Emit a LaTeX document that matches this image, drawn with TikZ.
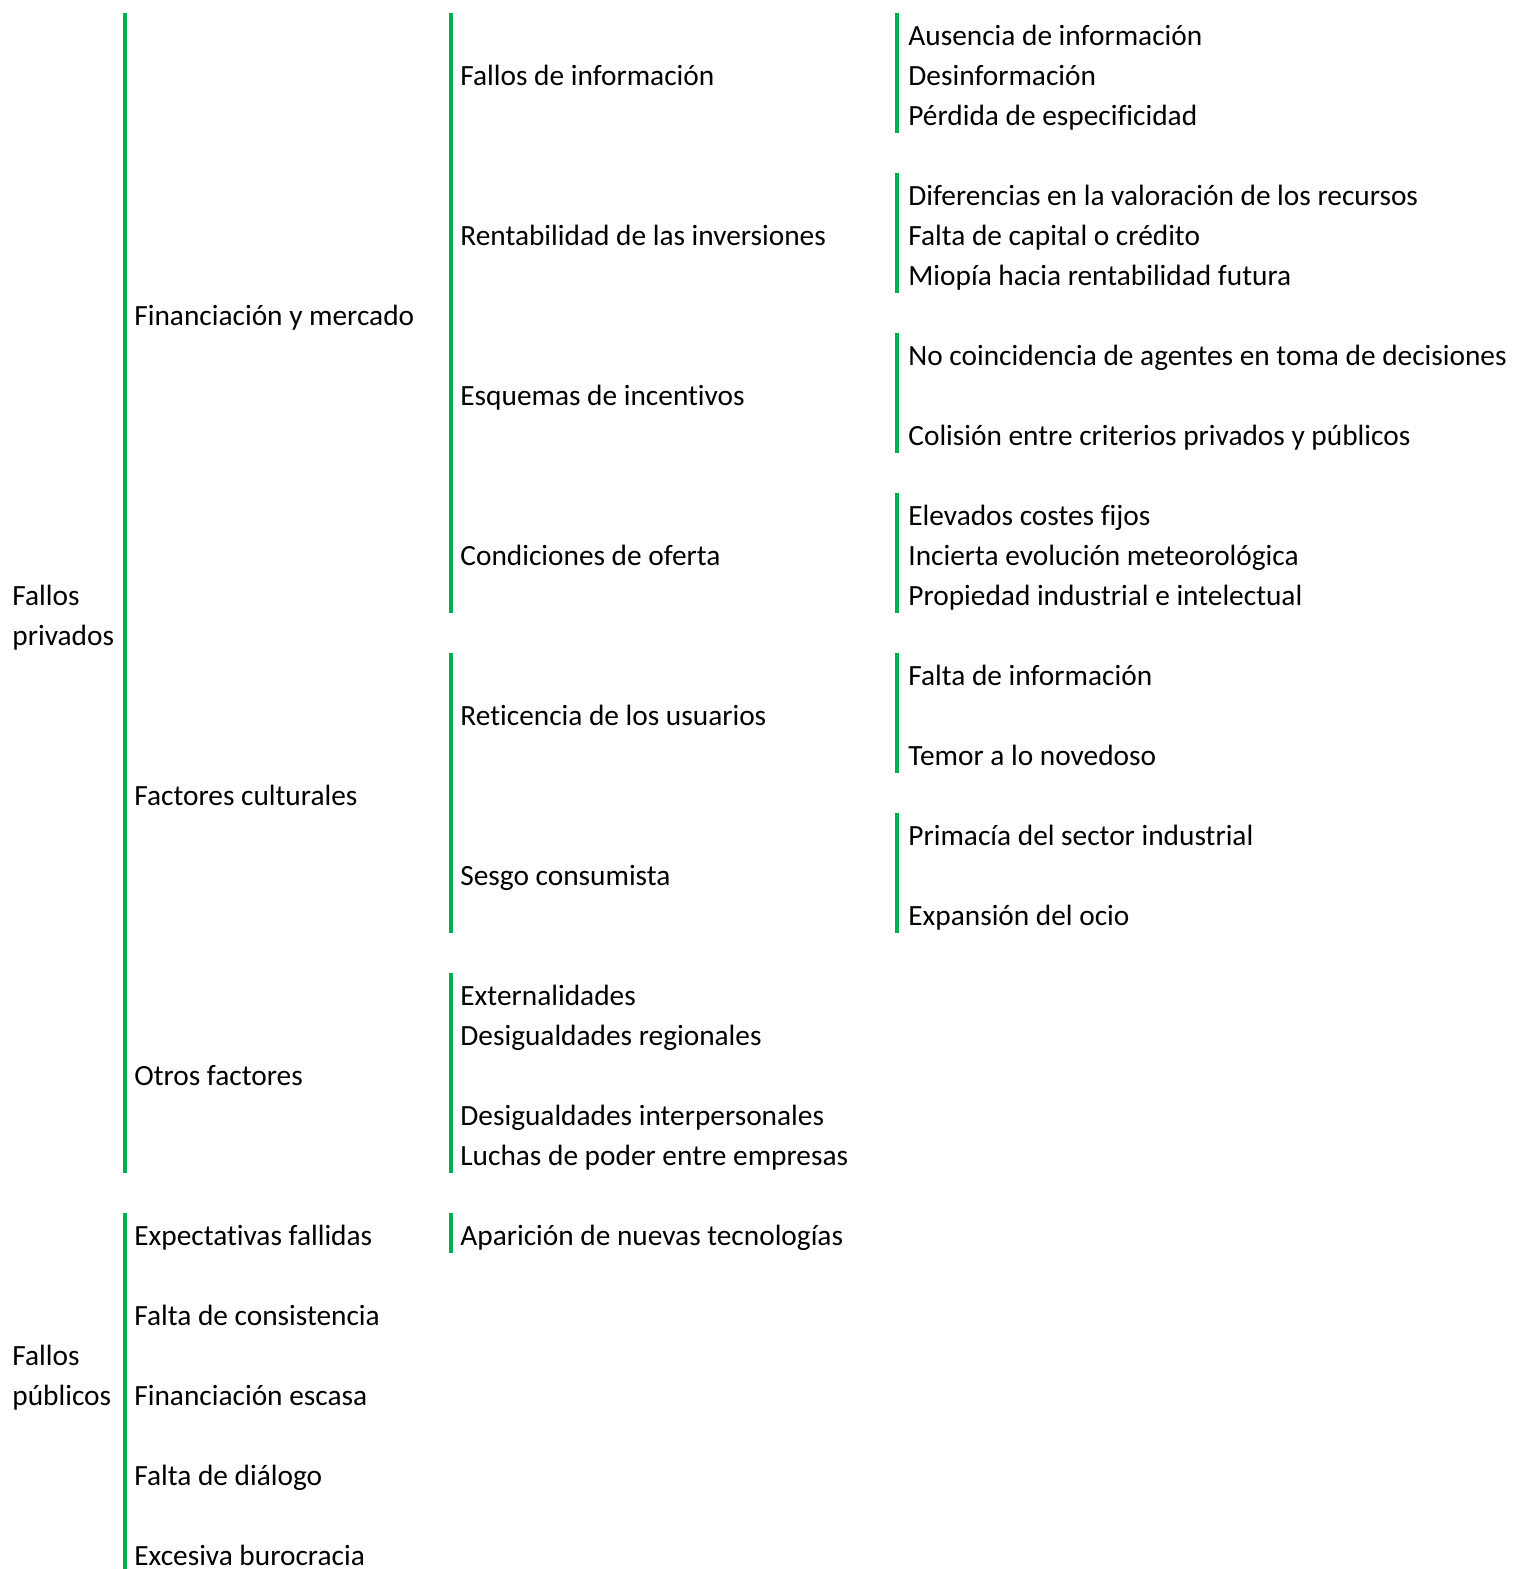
\documentclass[tikz,border=0pt]{standalone}
\usepackage{fontspec}
\setmainfont[Ligatures=NoCommon]{Carlito}
\definecolor{barg}{HTML}{00B050}
\newcommand\itm[4]{\node[lbl] (#1) at (#2,{45+40*#3}) {#4};}
\newcommand\brr[3]{\draw[bar] (#1,{13+40*#2}) -- (#1,{13+40*(#3+1)});}
\begin{document}
\begin{tikzpicture}[x=0.5pt,y=-0.5pt,
  lbl/.style={anchor=base west,inner sep=0pt,font=\fontsize{14.67pt}{18pt}\selectfont},
  bar/.style={draw=barg,line width=2pt}]
\useasboundingbox (0,0) rectangle (1513,1569);
\clip (0,0) rectangle (1513,1569);
% bars column 1
\brr{125}{0}{28}
\draw[bar] (125,1213) -- (125,1600);
% bars column 2
\brr{451}{0}{14}
\brr{451}{16}{22}
\brr{451}{24}{28}
\brr{451}{30}{30}
% bars column 3
\brr{897}{0}{2}
\brr{897}{4}{6}
\brr{897}{8}{10}
\brr{897}{12}{14}
\brr{897}{16}{18}
\brr{897}{20}{22}
% column 0
\itm{fp1}{12}{14}{Fallos}
\itm{fp2}{12}{15}{privados}
\itm{fq1}{12}{33}{Fallos}
\itm{fq2}{12}{34}{públicos}
% column 1
\itm{fin}{134}{7}{Financiación y mercado}
\itm{fac}{134}{19}{Factores culturales}
\itm{otr}{134}{26}{Otros factores}
\itm{exp}{134}{30}{Expectativas fallidas}
\itm{fco}{134}{32}{Falta de consistencia}
\itm{fes}{134}{34}{Financiación escasa}
\itm{fdi}{134}{36}{Falta de diálogo}
\itm{exb}{134}{38}{Excesiva burocracia}
% column 2
\itm{finf}{460}{1}{Fallos de información}
\itm{rent}{460}{5}{Rentabilidad de las inversiones}
\itm{esq}{460}{9}{Esquemas de incentivos}
\itm{cond}{460}{13}{Condiciones de oferta}
\itm{ret}{460}{17}{Reticencia de los usuarios}
\itm{ses}{460}{21}{Sesgo consumista}
\itm{ext}{460}{24}{Externalidades}
\itm{dreg}{460}{25}{Desigualdades regionales}
\itm{dint}{460}{27}{Desigualdades interpersonales}
\itm{luch}{460}{28}{Luchas de poder entre empresas}
\itm{apa}{460}{30}{Aparición de nuevas tecnologías}
% column 3
\itm{aus}{908}{0}{Ausencia de información}
\itm{des}{908}{1}{Desinformación}
\itm{per}{908}{2}{Pérdida de especificidad}
\itm{dif}{908}{4}{Diferencias en la valoración de los recursos}
\itm{fcap}{908}{5}{Falta de capital o crédito}
\itm{mio}{908}{6}{Miopía hacia rentabilidad futura}
\itm{noc}{908}{8}{No coincidencia de agentes en toma de decisiones}
\itm{col}{908}{10}{Colisión entre criterios privados y públicos}
\itm{ele}{908}{12}{Elevados costes fijos}
\itm{inc}{908}{13}{Incierta evolución meteorológica}
\itm{pro}{908}{14}{Propiedad industrial e intelectual}
\itm{fin3}{908}{16}{Falta de información}
\itm{tem}{908}{18}{Temor a lo novedoso}
\itm{pri}{908}{20}{Primacía del sector industrial}
\itm{exo}{908}{22}{Expansión del ocio}
\end{tikzpicture}
\end{document}
